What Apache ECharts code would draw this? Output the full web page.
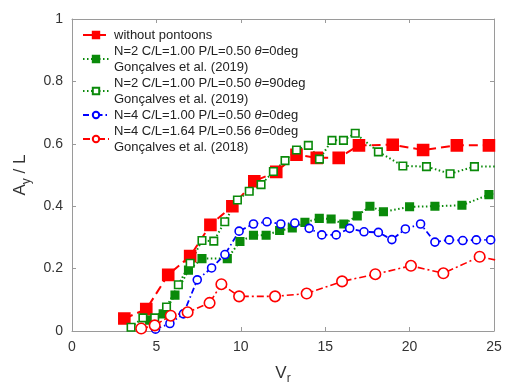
<!DOCTYPE html>
<html>
<head>
<meta charset="utf-8">
<script src="https://cdn.jsdelivr.net/npm/echarts@6/dist/echarts.min.js"></script>
<style>html,body{margin:0;padding:0;background:#fff}#c{width:508px;height:390px}</style>
</head>
<body>
<div id="c"></div>
<script>
const xTicks = [0, 5, 10, 15, 20, 25];
const yTicks = [0, 0.2, 0.4, 0.6, 0.8, 1];

const names = [
  'without pontoons',
  'N=2 C/L=1.00 P/L=0.50 θ=0deg\nGonçalves et al. (2019)',
  'N=2 C/L=1.00 P/L=0.50 θ=90deg\nGonçalves et al. (2019)',
  'N=4 C/L=1.00 P/L=0.50 θ=0deg',
  'N=4 C/L=1.64 P/L=0.56 θ=0deg\nGonçalves et al. (2018)'
];

const withoutPontoons = [[3.1,0.04],[4.4,0.07],[5.7,0.18],[7.0,0.24],[8.2,0.34],[9.5,0.40],[10.8,0.48],[12.1,0.51],[13.3,0.565],[14.5,0.555],[15.8,0.555],[17.0,0.595],[19.0,0.597],[20.8,0.58],[22.8,0.595],[24.7,0.595]];
const n2deg0 = [[4.6,0.035],[5.4,0.055],[6.1,0.115],[6.9,0.195],[7.7,0.232],[9.2,0.232],[9.95,0.287],[10.75,0.307],[11.5,0.307],[12.3,0.322],[13.05,0.33],[13.8,0.348],[14.65,0.361],[15.35,0.359],[16.1,0.343],[16.9,0.369],[17.65,0.40],[18.45,0.382],[20.0,0.398],[21.5,0.40],[23.1,0.403],[24.7,0.437],[25.6,0.45]];
const n2deg90 = [[3.5,0.012],[4.2,0.042],[4.9,0.042],[5.6,0.077],[6.3,0.148],[7.0,0.217],[7.7,0.29],[8.4,0.288],[9.05,0.35],[9.8,0.42],[10.5,0.448],[11.2,0.469],[11.93,0.511],[12.62,0.546],[13.3,0.58],[14.0,0.595],[14.66,0.551],[15.4,0.611],[16.08,0.611],[16.78,0.634],[18.15,0.574],[19.6,0.529],[21.0,0.527],[22.4,0.504],[23.84,0.527],[25.6,0.527]];
const n4cl100 = [[4.95,0.006],[5.8,0.024],[6.6,0.055],[7.42,0.164],[8.27,0.202],[9.06,0.245],[9.9,0.32],[10.75,0.343],[11.55,0.35],[12.37,0.343],[13.2,0.346],[14.05,0.329],[14.8,0.308],[15.65,0.308],[16.45,0.329],[17.3,0.318],[18.15,0.316],[18.95,0.293],[19.75,0.327],[20.65,0.343],[21.5,0.285],[22.35,0.292],[23.15,0.29],[23.95,0.292],[24.8,0.292]];
const n4cl164 = [[4.1,0.008],[4.9,0.018],[5.85,0.049],[6.85,0.06],[8.15,0.09],[8.85,0.15],[9.9,0.111],[12.03,0.111],[13.9,0.12],[16.0,0.159],[17.97,0.182],[20.08,0.209],[22.0,0.185],[24.15,0.238],[25.6,0.222]];

const FONT = '"Liberation Sans", Arial, sans-serif';
const chart = echarts.init(document.getElementById('c'), null, {renderer: 'canvas'});

function mk(name, data, color, symbol, size, filled, dash, width) {
  return {
    name: name, type: 'line', data: data, clip: true,
    symbol: symbol, symbolSize: size, showSymbol: true,
    lineStyle: {color: color, width: width, type: dash},
    itemStyle: {color: filled ? color : '#fff', borderColor: color, borderWidth: 1.6},
    emphasis: {disabled: true}, animation: false
  };
}

const axisCommon = {
  type: 'value', min: 0,
  axisLine: {show: true, onZero: false, lineStyle: {color: '#9a9a9a', width: 1}},
  axisTick: {show: true, inside: true, length: 4, lineStyle: {color: '#9a9a9a'}},
  splitLine: {show: false}
};

chart.setOption({
  backgroundColor: '#fff',
  animation: false,
  grid: {left: 72, right: 14, top: 19, bottom: 53, containLabel: false},
  legend: {
    orient: 'vertical', left: 82, top: 27, padding: 0,
    itemWidth: 26, itemHeight: 8, itemGap: 0, selectedMode: false,
    data: names,
    formatter: function (n) { return n.replace(/θ/g, '{i|θ}'); },
    textStyle: {fontFamily: FONT, fontSize: 13, color: '#222', lineHeight: 16,
      rich: {i: {fontStyle: 'italic', fontFamily: FONT, fontSize: 13, color: '#222', lineHeight: 16}}}
  },
  xAxis: [
    Object.assign({}, axisCommon, {
      max: 25, interval: 5, position: 'bottom',
      axisLabel: {fontFamily: FONT, fontSize: 14, color: '#333', margin: 9,
        formatter: function (v) { return xTicks.indexOf(v) >= 0 ? String(v) : ''; }},
      name: '{a|V}{s|r}', nameLocation: 'middle', nameGap: 30,
      nameTextStyle: {rich: {a: {fontFamily: FONT, fontSize: 17, color: '#333'},
        s: {fontFamily: FONT, fontSize: 12, color: '#333', padding: [12, 0, 0, 0]}}}
    }),
    Object.assign({}, axisCommon, {max: 25, interval: 5, position: 'top', axisLabel: {show: false}})
  ],
  yAxis: [
    Object.assign({}, axisCommon, {
      max: 1, interval: 0.2, position: 'left',
      axisLabel: {fontFamily: FONT, fontSize: 14, color: '#333', margin: 9,
        formatter: function (v) { const t = yTicks.find(function (k) { return Math.abs(k - v) < 1e-9; }); return t === undefined ? '' : String(t); }},
      name: '{a|A}{s|y}{a| / L}', nameLocation: 'middle', nameGap: 38, nameRotate: 90,
      nameTextStyle: {rich: {a: {fontFamily: FONT, fontSize: 17, color: '#333'},
        s: {fontFamily: FONT, fontSize: 12, color: '#333', padding: [12, 0, 0, 0]}}}
    }),
    Object.assign({}, axisCommon, {max: 1, interval: 0.2, position: 'right', axisLabel: {show: false}})
  ],
  series: [
    mk(names[0], withoutPontoons, '#ff0000', 'rect', 11, true, [9, 5], 2),
    mk(names[1], n2deg0, '#0a8a0a', 'rect', 7.5, true, [1.5, 2.5], 2),
    mk(names[2], n2deg90, '#0a8a0a', 'rect', 7.5, false, [1.5, 2.5], 2),
    mk(names[3], n4cl100, '#0000ff', 'circle', 8, false, [6, 3, 1.5, 3], 1.8),
    mk(names[4], n4cl164, '#ff0000', 'circle', 10.5, false, [7, 3, 2, 3], 1.6)
  ]
});
</script>
</body>
</html>
